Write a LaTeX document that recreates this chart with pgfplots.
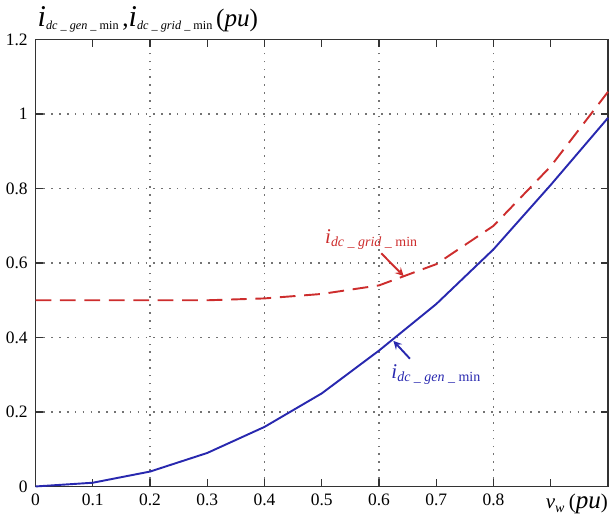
\documentclass[border=0pt]{standalone}
\usepackage{pgfplots}
\pgfplotsset{compat=1.18}
\usepackage{fontspec}
\setmainfont{Liberation Serif}
\definecolor{curveblue}{RGB}{40,40,175}
\definecolor{curvered}{RGB}{205,45,45}

\begin{document}
\begin{tikzpicture}
\begin{axis}[
    scale only axis,
    width=328pt, height=256pt,
    xmin=0, xmax=1, ymin=0, ymax=1.2,
    clip=false,
    axis line style={black!80, line width=0.8pt},
    tick align=inside,
    major tick length=4pt,
    tick style={black!80, line width=0.8pt},
    xtick={0,0.1,...,0.9},
    xticklabels={0,0.1,0.2,0.3,0.4,0.5,0.6,0.7,0.8,{}},
    ytick={0,0.2,...,1.2},
    yticklabels={0,0.2,0.4,0.6,0.8,1,1.2},
    ymajorgrids,
    extra x ticks={0.2,0.4,0.6,0.8},
    extra x tick labels={},
    extra x tick style={grid=major},
    grid style={black!55, line width=0.9pt, dash pattern=on 0.9pt off 3.6pt},
    x tick label style={yshift=-1pt, anchor=north},
    y tick label style={xshift=-1pt},
]
% minimum dc current of the generator side converter
\addplot[curveblue, line width=1.1pt] coordinates {
  (0,0) (0.1,0.01) (0.2,0.04) (0.3,0.09) (0.4,0.16) (0.5,0.25)
  (0.6,0.365) (0.7,0.49) (0.8,0.637) (0.9,0.81) (1.0,0.99)};
% minimum dc current of the grid side converter
\addplot[curvered, line width=1.1pt, dash pattern=on 9pt off 5pt] coordinates {
  (0,0.5) (0.1,0.5) (0.2,0.5) (0.3,0.5) (0.4,0.505) (0.5,0.517)
  (0.6,0.54) (0.7,0.597) (0.8,0.70) (0.9,0.86) (1.0,1.06)};

\node[curvered, font=\large] at (axis cs:0.587,0.662)
  {\textit{i}\textsubscript{\textit{dc} \_ \textit{grid} \_ min}};
\draw[curvered, line width=1.1pt, -stealth] (axis cs:0.604,0.626) -- (axis cs:0.643,0.565);
\node[curveblue, font=\large] at (axis cs:0.70,0.30)
  {\textit{i}\textsubscript{\textit{dc} \_ \textit{gen} \_ min}};
\draw[curveblue, line width=1.1pt, -stealth] (axis cs:0.654,0.343) -- (axis cs:0.625,0.391);

\node[anchor=north west, font=\large, inner xsep=0pt, yshift=-1pt, xshift=-3pt] at (axis cs:0.9,0)
  {\textit{v}\textsubscript{\textit{w}}\,({\Large\textit{pu}})};

\node[anchor=south west, font=\normalsize, inner xsep=1pt, inner ysep=4pt] at (rel axis cs:0,1)
  {{\LARGE\textit{i}}\textsubscript{\textit{dc} \_ \textit{gen} \_ min}\,{\Large,}{\LARGE\textit{i}}\textsubscript{\textit{dc} \_ \textit{grid} \_ min}\,{\Large(\textit{pu})}};
\end{axis}
\end{tikzpicture}
\end{document}
